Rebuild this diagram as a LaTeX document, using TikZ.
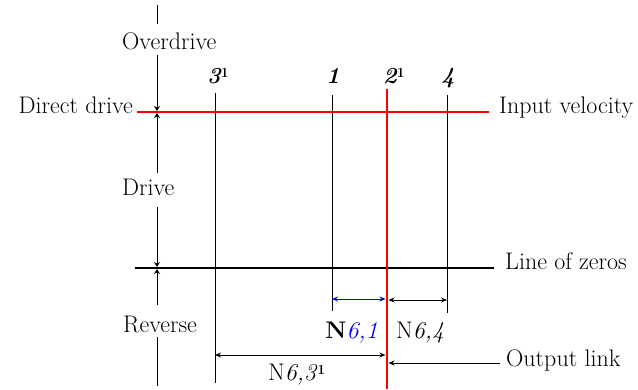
\documentclass[tikz,border=0pt]{standalone}
\usepackage{fontspec}
\usetikzlibrary{arrows.meta}

\newcommand{\supone}{\raisebox{0.55ex}{\fontsize{14}{14}\selectfont\bfseries\upshape 1}}

\begin{document}
\begin{tikzpicture}[x=1pt, y=-1pt,
    every node/.style={font=\fontsize{24}{28}\selectfont, inner sep=0pt},
    lbl/.style={anchor=base west},
    num/.style={anchor=base west, font=\fontsize{23}{28}\selectfont\bfseries\itshape},
    redline/.style={red, line width=2.4pt},
    zeroline/.style={black, line width=2.8pt},
    member/.style={black, line width=0.9pt},
    axline/.style={black, line width=0.9pt},
    axtip/.style={axline, -{Stealth[length=5pt, width=6pt]}},
    dimarrow/.style={line width=0.9pt, {Stealth[length=6pt, width=5pt]}-{Stealth[length=6pt, width=5pt]}}]
    \useasboundingbox (0,0) rectangle (638,389);
    % levels
    \coordinate (inL) at (137,112);
    \coordinate (inR) at (489,112);
    \coordinate (zL) at (135,268);
    \coordinate (zR) at (494,268);
    % members
    \coordinate (m3t) at (215,93);
    \coordinate (m3b) at (215,383);
    \coordinate (m1t) at (332,95);
    \coordinate (m1b) at (332,311);
    \coordinate (m2t) at (387,89);
    \coordinate (m2b) at (387,389);
    \coordinate (m4t) at (447,95);
    \coordinate (m4b) at (447,313);
    % left axis
    \coordinate (a0) at (157,5);
    \coordinate (a1) at (157,24);
    \coordinate (a2) at (157,55);
    \coordinate (a3) at (157,111);
    \coordinate (a4) at (157,113);
    \coordinate (a5) at (157,173);
    \coordinate (a6) at (157,207);
    \coordinate (a7) at (157,267);
    \coordinate (a8) at (157,269);
    \coordinate (a9) at (157,305);
    \coordinate (a10) at (157,337);
    \coordinate (a11) at (157,386);
    \draw[axline] (a0) -- (a1);
    \draw[axtip] (a2) -- (a3);
    \draw[axtip] (a5) -- (a4);
    \draw[axtip] (a6) -- (a7);
    \draw[axtip] (a9) -- (a8);
    \draw[axline] (a10) -- (a11);
    % lines
    \draw[member] (m3t) -- (m3b);
    \draw[member] (m1t) -- (m1b);
    \draw[member] (m4t) -- (m4b);
    \draw[redline] (inL) -- (inR);
    \draw[zeroline] (zL) -- (zR);
    \draw[redline] (m2t) -- (m2b);
    % labels
    \node[lbl] (over) at (122,49) {Overdrive};
    \node[anchor=base east] (direct) at (133,113) {Direct drive};
    \node[lbl] (drive) at (122,195) {Drive};
    \node[lbl] (rev) at (123,332) {Reverse};
    \node[lbl] (inp) at (499,113) {Input velocity};
    \node[lbl] (zeros) at (505,269) {Line of zeros};
    \node[lbl] (out) at (506,366) {Output link};
    \node[num] (n3) at (207,83) {3\supone};
    \node[num, anchor=base] (n1) at (333,83) {1};
    \node[num] (n2) at (383,83) {2\supone};
    \node[num, anchor=base] (n4) at (448,83) {4};
    % dimensions
    \coordinate (d1a) at (332,299);
    \coordinate (d1b) at (385.5,299);
    \coordinate (d4a) at (388.5,300);
    \coordinate (d4b) at (447,300);
    \coordinate (d3a) at (215,355);
    \coordinate (d3b) at (385.5,355);
    \coordinate (olink) at (500,363);
    \coordinate (olinkend) at (388.5,363);
    \draw[dimarrow, blue] (d1a) -- (d1b);
    \draw[dimarrow] (d4a) -- (d4b);
    \draw[dimarrow] (d3a) -- (d3b);
    \draw[line width=0.9pt, -{Stealth[length=6pt, width=5pt]}] (olink) -- (olinkend);
    \node[anchor=base east] (n61) at (378,338) {\textbf{N}\textcolor{blue}{\textit{6,1}}};
    \node[lbl] (n64) at (396,338) {N\textit{6,4}};
    \node[lbl] (n63) at (268,380) {N\textit{6,3}\supone};
\end{tikzpicture}
\end{document}
